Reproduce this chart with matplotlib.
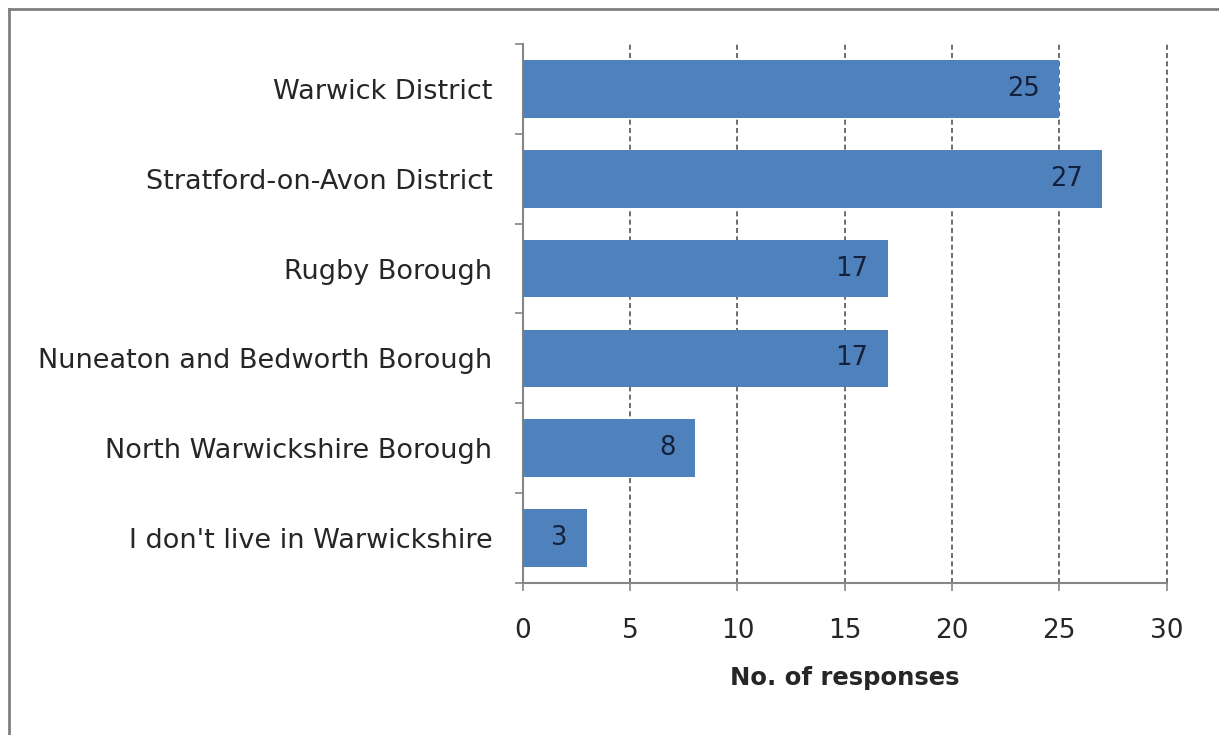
import matplotlib.pyplot as plt
from matplotlib.lines import Line2D

plt.rcParams['font.family'] = ['DejaVu Sans']

areas = ['Warwick District', 'Stratford-on-Avon District', 'Rugby Borough',
         'Nuneaton and Bedworth Borough', 'North Warwickshire Borough',
         "I don't live in Warwickshire"]
responses = [25, 27, 17, 17, 8, 3]
x_ticks = [0, 5, 10, 15, 20, 25, 30]

bar_color = '#4F81BD'
axis_gray = '#868686'
text_color = '#262626'

fig = plt.figure(figsize=(12.19, 7.35), dpi=100)
ax = fig.add_axes([0.429, 0.207, 0.528, 0.733])

n = len(areas)
pos = list(range(n))[::-1]  # first category on top
ax.barh(pos, responses, height=0.64, color=bar_color, zorder=3)

for y, v in zip(pos, responses):
    ax.annotate(str(v), (v, y), xytext=(-14, 0), textcoords='offset points',
                ha='right', va='center', fontsize=18.5, color='#15203a', zorder=4)

ax.set_xlim(0, 30)
ax.set_ylim(-0.5, n - 0.5)
ax.set_xticks(x_ticks)
ax.set_xticklabels([str(t) for t in x_ticks], fontsize=19, color=text_color)
ax.tick_params(axis='x', length=6, width=1.2, color=axis_gray, pad=19)

# category boundaries carry the tick marks, names sit at the centres
ax.set_yticks([i - 0.5 for i in range(n + 1)])
ax.set_yticklabels([])
ax.set_yticks(pos, minor=True)
ax.set_yticklabels(areas, minor=True, fontsize=19.5, color=text_color)
ax.tick_params(axis='y', which='major', length=6, width=1.2, color=axis_gray)
ax.tick_params(axis='y', which='minor', length=0, pad=22)

ax.xaxis.grid(True, linestyle=(0, (3, 2)), color='#555555', linewidth=1.2, zorder=0)
for gl in ax.get_xgridlines():
    gl.set_clip_on(False)
for s in ['top', 'right']:
    ax.spines[s].set_visible(False)
for s in ['left', 'bottom']:
    ax.spines[s].set_color(axis_gray)
    ax.spines[s].set_linewidth(1.5)

ax.set_xlabel('No. of responses', fontsize=17.5, fontweight='bold',
              color=text_color, labelpad=16)

# frame around the chart area
fig.add_artist(Line2D([9 / 1219, 1], [1 - 9 / 735] * 2, color='#808080', linewidth=2))
fig.add_artist(Line2D([9 / 1219] * 2, [0, 1 - 9 / 735], color='#808080', linewidth=2))

fig.savefig('out.png', dpi=100)
